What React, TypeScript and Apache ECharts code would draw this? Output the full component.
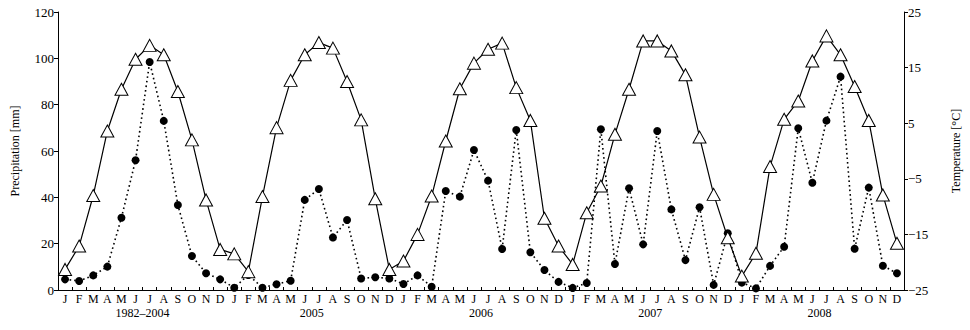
import React, { useEffect, useRef } from "react";
import * as echarts from "echarts";

const monthLetters = ["J", "F", "M", "A", "M", "J", "J", "A", "S", "O", "N", "D"];
const years = ["1982–2004", "2005", "2006", "2007", "2008"];

const precip1982_2004 = [4.6, 3.9, 6.3, 10.1, 31.2, 56.0, 98.4, 73.0, 36.7, 14.7, 7.2, 4.6];
const precip2005 = [1.0, 6.5, 1.0, 2.5, 4.0, 38.9, 43.6, 22.7, 30.2, 5.0, 5.5, 5.0];
const precip2006 = [2.6, 6.3, 1.4, 42.7, 40.3, 60.4, 47.2, 17.7, 69.1, 16.3, 8.6, 3.5];
const precip2007 = [0.9, 3.0, 69.4, 11.2, 43.9, 19.7, 68.6, 34.8, 12.9, 35.7, 2.2, 24.5];
const precip2008 = [3.2, 0.7, 10.4, 18.7, 69.8, 46.3, 73.1, 92.1, 17.8, 44.2, 10.5, 7.2];

const temp1982_2004 = [-21.3, -17.1, -8.0, 3.6, 11.1, 16.5, 19.0, 17.3, 10.7, 2.0, -8.8, -17.7];
const temp2005 = [-18.5, -21.7, -8.2, 4.2, 12.7, 17.3, 19.5, 18.5, 12.5, 5.6, -8.6, -21.3];
const temp2006 = [-19.8, -15.0, -8.1, 1.8, 11.2, 15.8, 18.3, 19.4, 11.4, 5.5, -12.1, -17.1];
const temp2007 = [-20.4, -11.1, -6.3, 3.0, 11.1, 19.8, 19.8, 18.0, 13.7, 2.5, -7.8, -15.6];
const temp2008 = [-22.5, -18.4, -2.8, 5.7, 9.0, 16.2, 20.7, 17.3, 11.6, 5.5, -7.9, -16.6];

const FONT = "Liberation Serif";

export default function App() {
  const ref = useRef<HTMLDivElement>(null);

  useEffect(() => {
    if (!ref.current) return;
    const chart = echarts.init(ref.current, null, { renderer: "svg" });

    const months: string[] = [];
    years.forEach(() => monthLetters.forEach((m) => months.push(m)));
    const precip = [...precip1982_2004, ...precip2005, ...precip2006, ...precip2007, ...precip2008];
    const temp = [...temp1982_2004, ...temp2005, ...temp2006, ...temp2007, ...temp2008];

    chart.setOption({
      animation: false,
      backgroundColor: "#ffffff",
      textStyle: { fontFamily: FONT, color: "#000" },
      grid: { left: 58, right: 57, top: 12, bottom: 40, containLabel: false },
      xAxis: [
        {
          type: "category",
          data: months,
          boundaryGap: true,
          position: "bottom",
          axisLine: { show: true, lineStyle: { color: "#000", width: 1 } },
          axisTick: { show: true, inside: true, length: 3, lineStyle: { color: "#000" } },
          axisLabel: { interval: 0, fontFamily: FONT, fontSize: 12, color: "#000", margin: 3 },
          splitLine: { show: false },
        },
        {
          type: "category",
          data: years,
          boundaryGap: true,
          position: "bottom",
          offset: 15,
          axisLine: { show: false },
          axisTick: { show: false },
          axisLabel: { interval: 0, fontFamily: FONT, fontSize: 12, color: "#000", margin: 2 },
          splitLine: { show: false },
        },
      ],
      yAxis: [
        {
          type: "value",
          min: 0,
          max: 120,
          interval: 20,
          position: "left",
          name: "Precipitation [mm]",
          nameLocation: "middle",
          nameRotate: 90,
          nameGap: 37,
          nameTextStyle: { fontFamily: FONT, fontSize: 12, color: "#000" },
          axisLine: { show: true, lineStyle: { color: "#000", width: 1 } },
          axisTick: { show: true, inside: false, length: 4, lineStyle: { color: "#000" } },
          axisLabel: { fontFamily: FONT, fontSize: 13, color: "#000", margin: 4 },
          splitLine: { show: false },
        },
        {
          type: "value",
          min: -25,
          max: 25,
          interval: 10,
          position: "right",
          name: "Temperature [°C]",
          nameLocation: "middle",
          nameRotate: 90,
          nameGap: 46,
          nameTextStyle: { fontFamily: FONT, fontSize: 12, color: "#000" },
          axisLine: { show: true, lineStyle: { color: "#000", width: 1 } },
          axisTick: { show: true, inside: false, length: 4, lineStyle: { color: "#000" } },
          axisLabel: {
            fontFamily: FONT,
            fontSize: 13,
            color: "#000",
            margin: 4,
            formatter: (v: number) => (v < 0 ? "\u2212" + Math.abs(v) : String(v)),
          },
          splitLine: { show: false },
        },
      ],
      series: [
        {
          name: "Precipitation",
          type: "line",
          xAxisIndex: 0,
          yAxisIndex: 0,
          data: precip,
          symbol: "circle",
          symbolSize: 8,
          itemStyle: { color: "#000", borderColor: "#000", borderWidth: 0 },
          lineStyle: { color: "#000", width: 1.6, type: [1.6, 3] },
          z: 2,
        },
        {
          name: "Temperature",
          type: "line",
          xAxisIndex: 0,
          yAxisIndex: 1,
          data: temp,
          symbol: "triangle",
          symbolSize: [13, 12],
          itemStyle: { color: "#fff", borderColor: "#000", borderWidth: 1 },
          lineStyle: { color: "#000", width: 1.2, type: "solid" },
          z: 3,
        },
      ],
    });

    return () => chart.dispose();
  }, []);

  return (
    <div
      ref={ref}
      style={{ position: "fixed", left: 0, top: 0, width: 970, height: 330, background: "#fff" }}
    />
  );
}
